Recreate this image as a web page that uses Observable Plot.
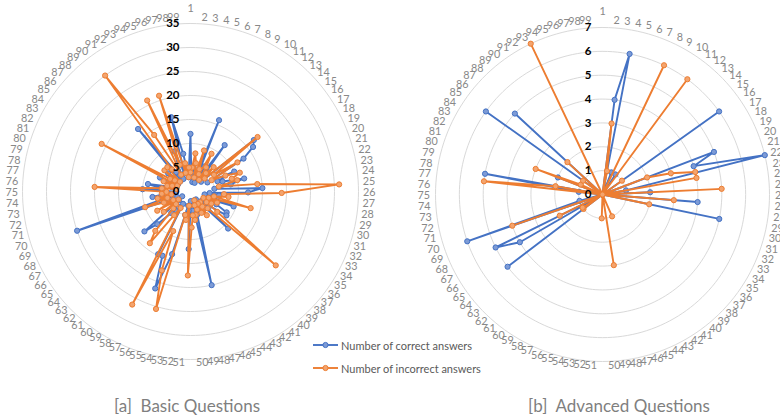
<!DOCTYPE html>
<html>
<head>
<meta charset="utf-8">
<script src="https://cdn.jsdelivr.net/npm/d3@7"></script>
<script src="https://cdn.jsdelivr.net/npm/@observablehq/plot@0.6"></script>
<style>
  body { margin: 0; background: #fff; font-family: Lato, "Open Sans", sans-serif; }
  #wrap { position: relative; width: 780px; height: 420px; overflow: hidden; }
  .chart { position: absolute; top: 0; }
  .title { position: absolute; top: 395px; font-size: 17px; color: #7f7f7f; white-space: pre; transform: translateX(-50%); }
  .leg { position: absolute; left: 313px; font-size: 11px; color: #595959; white-space: nowrap; display: flex; align-items: center; }
  .leg svg { margin-right: 3px; }
</style>
</head>
<body>
<div id="wrap"></div>
<script>
// ---- data ----
const categories = Array.from({length: 99}, (_, i) => String(i + 1));

const basicTicks = [0, 5, 10, 15, 20, 25, 30, 35];
const advancedTicks = [0, 1, 2, 3, 4, 5, 6, 7];

const seriesNames = ["Number of correct answers", "Number of incorrect answers"];
const chartTitles = ["[a]  Basic Questions", "[b]  Advanced Questions"];

const basicCorrect = [
  12, 3, 5, 2, 4, 3, 16, 2, 6, 3,
  12, 4, 5, 3, 17, 16, 13, 4, 10, 6,
  7, 11.5, 8.5, 5, 15, 12, 4, 6, 3, 5,
  9.5, 4, 6, 8.7, 9, 5, 3, 11, 4, 4.6,
  2, 3, 4, 2, 3, 5, 20, 3, 4, 2,
  12, 4, 3, 5, 13.6, 21.5, 14.6, 14.7, 3, 5,
  4, 6, 9.7, 12.7, 3, 4, 2, 5, 3, 25,
  6, 4, 8, 5, 3, 10, 6, 9, 4, 3,
  5, 7, 4, 3, 5, 6, 4, 3, 17, 5,
  4, 3, 6, 9, 4, 16, 8, 3, 5
];
const basicIncorrect = [
  4, 5, 8, 6, 3, 9, 5, 4, 9, 6,
  3, 5, 7, 4, 18, 6, 11.5, 5, 8, 11,
  9, 10, 6, 14, 31, 19, 7, 8, 5, 13,
  4, 6, 3, 5, 4, 7, 23.5, 5, 3, 4,
  6, 3, 5, 2, 4, 3, 5, 6, 5, 7.5,
  17.5, 3, 6, 5, 25.5, 17.5, 9, 26.5, 4, 6,
  13.7, 11, 5, 4, 7, 3, 8, 4, 6, 10,
  5, 7, 4, 6, 5, 20, 6, 3, 5, 4,
  6, 3, 21, 5, 4, 7, 3, 7, 6, 30,
  14, 4, 21, 6, 21, 4, 6, 3, 5
];
const advancedCorrect = [
  0, 0, 4, 6, 0, 0, 1, 0, 0, 1,
  0, 0, 0, 0, 0, 6, 0, 0, 0, 5,
  4, 7, 1, 0, 2, 0, 4, 0, 5, 0,
  0, 0, 0, 0, 0, 0, 0, 0, 0, 0,
  0, 0, 0, 0, 0, 0, 0, 0, 0, 0,
  0, 0, 0, 0, 0, 0, 0, 0, 0, 0,
  0, 0, 0, 0, 5, 0, 4, 5, 0, 6,
  1, 0, 0, 0, 0, 0, 1, 5, 0, 0,
  2, 0, 0, 0, 6, 0, 5, 0, 0, 0,
  0, 0, 0, 0, 0, 0, 0, 0, 0
];
const advancedIncorrect = [
  0, 0, 3, 1, 0, 0, 0, 6, 0, 0,
  6, 0, 0, 0, 0, 1, 0, 0, 0, 2,
  3, 4, 4, 0, 5, 0, 3, 0, 2, 0,
  0, 0, 0, 0, 0, 0, 0, 0, 0, 0,
  0, 0, 0, 1, 0, 0, 0, 3, 0, 0,
  1, 0, 0, 0, 0, 0, 0, 0, 0, 0,
  0, 0, 0, 0, 1, 1, 0, 2, 0, 4,
  0, 0, 0, 0, 0, 0, 5, 2, 0, 0,
  3, 1, 0, 0, 1, 0, 2, 0, 0, 0,
  0, 0, 7, 0, 0, 0, 0, 0, 0
];

// ---- styling ----
const BLUE = "#4472c4", BLUE_FILL = "#7d9bd6";
const ORANGE = "#ed7d31", ORANGE_FILL = "#f3a46e";
const LABEL_GREY = "#888888";

const N = categories.length;
const ang = i => 2 * Math.PI * i / N;
const px = (v, i) => v * Math.sin(ang(i));
const py = (v, i) => v * Math.cos(ang(i));

function radar({correct, incorrect, ticks, cx, cy, rpx, left}) {
  const max = ticks[ticks.length - 1];
  const unit = rpx / max;
  const labelR = 172.5 / unit;
  const rings = ticks.filter(t => t > 0).flatMap(t =>
    d3.range(0, 360, 2).map(a => ({t, a: a * Math.PI / 180})));
  const rowsC = correct.map((v, i) => ({v, i}));
  const rowsI = incorrect.map((v, i) => ({v, i}));
  const labels = categories.map((c, i) => ({c, i}));
  const side = d => d.i === 0 ? "top" : (Math.sin(ang(d.i)) > 0 ? "right" : "left");
  const lx = d => labelR * Math.sin(ang(d.i));
  const ly = d => labelR * Math.cos(ang(d.i));
  const labelMark = (which, anchor, dy) => Plot.text(labels.filter(d => side(d) === which), {
    x: lx, y: ly, text: d => d.c, fill: LABEL_GREY, stroke: "none",
    fontSize: 10.8, textAnchor: anchor, dy
  });
  const svg = Plot.plot({
    width: 390,
    height: 392,
    margin: 0,
    style: {background: "transparent", fontFamily: "Lato, 'Open Sans', sans-serif", overflow: "visible"},
    x: {domain: [-max, max], range: [cx - rpx, cx + rpx], axis: null},
    y: {domain: [-max, max], range: [cy + rpx, cy - rpx], axis: null},
    marks: [
      Plot.line(rings, {x: d => d.t * Math.sin(d.a), y: d => d.t * Math.cos(d.a), z: "t",
        curve: "linear-closed", stroke: "#d9d9d9", strokeWidth: 1}),
      labelMark("top", "middle", -10),
      labelMark("right", "start", -1.5),
      labelMark("left", "end", -1.5),
      Plot.line(rowsC, {x: d => px(d.v, d.i), y: d => py(d.v, d.i), curve: "linear-closed",
        stroke: BLUE, strokeWidth: 1.9}),
      Plot.dot(rowsC, {x: d => px(d.v, d.i), y: d => py(d.v, d.i), r: 2.6,
        fill: BLUE_FILL, stroke: BLUE, strokeWidth: 1}),
      Plot.line(rowsI, {x: d => px(d.v, d.i), y: d => py(d.v, d.i), curve: "linear-closed",
        stroke: ORANGE, strokeWidth: 1.9}),
      Plot.dot(rowsI, {x: d => px(d.v, d.i), y: d => py(d.v, d.i), r: 2.6,
        fill: ORANGE_FILL, stroke: ORANGE, strokeWidth: 1}),
      Plot.text(ticks, {x: 0, y: d => d, text: d => String(d), dx: -11, textAnchor: "end",
        fill: "#000", fontWeight: "bold", fontSize: 11.5})
    ]
  });
  svg.classList.add("chart");
  svg.style.left = left + "px";
  return svg;
}

const wrap = document.getElementById("wrap");
wrap.appendChild(radar({correct: basicCorrect, incorrect: basicIncorrect, ticks: basicTicks,
  cx: 190, cy: 191, rpx: 168, left: 0}));
wrap.appendChild(radar({correct: advancedCorrect, incorrect: advancedIncorrect, ticks: advancedTicks,
  cx: 212, cy: 194, rpx: 167, left: 390}));

// legend
[[BLUE, BLUE_FILL, 345], [ORANGE, ORANGE_FILL, 368]].forEach(([c, f, y], k) => {
  const d = document.createElement("div");
  d.className = "leg";
  d.style.top = (y - 8) + "px";
  d.innerHTML = `<svg width="25" height="16"><line x1="0" y1="8" x2="25" y2="8" stroke="${c}" stroke-width="1.9"/>` +
    `<circle cx="12.5" cy="8" r="2.6" fill="${f}" stroke="${c}"/></svg><span>${seriesNames[k]}</span>`;
  wrap.appendChild(d);
});

// titles
[[187, chartTitles[0]], [619, chartTitles[1]]].forEach(([x, t]) => {
  const d = document.createElement("div");
  d.className = "title";
  d.style.left = x + "px";
  d.textContent = t;
  wrap.appendChild(d);
});
</script>
</body>
</html>
